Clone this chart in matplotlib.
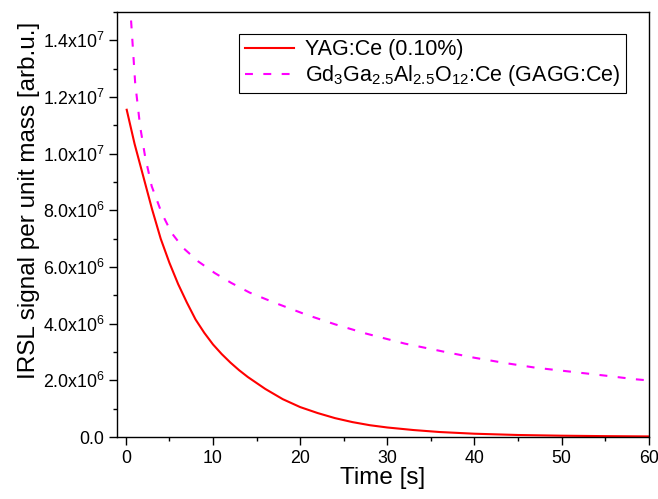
import numpy as np
import matplotlib.pyplot as plt
from matplotlib.ticker import MultipleLocator, FuncFormatter

plt.rcParams['font.family'] = ['Liberation Sans', 'DejaVu Sans']
plt.rcParams['mathtext.fontset'] = 'custom'
plt.rcParams['mathtext.rm'] = 'Liberation Sans'
plt.rcParams['mathtext.it'] = 'Liberation Sans:italic'

# YAG:Ce (0.10%)
yag_t = [0.1, 1, 2, 3, 4, 5, 6, 7, 8, 9, 10, 11, 12, 13, 14, 16, 18, 20, 22, 24, 26, 28,
         30, 33, 36, 40, 45, 50, 55, 60]
yag_y = [11.55e6, 10.35e6, 9.2e6, 8.05e6, 7.0e6, 6.15e6, 5.4e6, 4.75e6, 4.15e6, 3.68e6,
         3.27e6, 2.93e6, 2.63e6, 2.36e6, 2.12e6, 1.7e6, 1.34e6, 1.06e6, 0.85e6, 0.67e6,
         0.53e6, 0.42e6, 0.34e6, 0.25e6, 0.18e6, 0.12e6, 0.075e6, 0.05e6, 0.035e6, 0.025e6]

# GAGG:Ce
gagg_t = [0.6, 1.07, 1.64, 2.21, 2.97, 4.12, 5.26, 6.6, 8.3, 10.2, 12.1, 14.2, 17, 20.7,
          24, 27.6, 32, 36.4, 40, 43.6, 47, 51.3, 55, 58.5, 60]
gagg_y = [14.7e6, 12.5e6, 10.96e6, 9.9e6, 8.85e6, 7.9e6, 7.2e6, 6.67e6, 6.2e6, 5.79e6, 5.44e6,
          5.1e6, 4.75e6, 4.32e6, 3.98e6, 3.65e6, 3.3e6, 3.02e6, 2.8e6, 2.61e6, 2.45e6, 2.3e6,
          2.17e6, 2.04e6, 2.0e6]

fig = plt.figure(figsize=(6.58, 4.99), dpi=100)
ax = fig.add_axes([0.178, 0.124, 0.808, 0.852])

ax.plot(yag_t, yag_y, color='red', lw=1.5, label='YAG:Ce (0.10%)')
ax.plot(gagg_t, gagg_y, color='magenta', lw=1.5, ls=(0, (3.8, 5)),
        label=r'Gd$_3$Ga$_{2.5}$Al$_{2.5}$O$_{12}$:Ce (GAGG:Ce)')

ax.set_xlim(-1, 60)
ax.set_ylim(0, 1.5e7)
ax.xaxis.set_major_locator(MultipleLocator(10))
ax.xaxis.set_minor_locator(MultipleLocator(5))
ax.yaxis.set_major_locator(MultipleLocator(2e6))
ax.yaxis.set_minor_locator(MultipleLocator(1e6))


def yfmt(v, pos):
    if v <= 0:
        return '0.0'
    e = int(np.floor(np.log10(v)))
    return r'%.1fx10$^{%d}$' % (v / 10**e, e)


ax.yaxis.set_major_formatter(FuncFormatter(yfmt))
ax.tick_params(which='both', direction='out', labelsize=12.8, width=1)
ax.tick_params(which='major', length=6, pad=3)
ax.tick_params(which='minor', length=3)
for s in ax.spines.values():
    s.set_linewidth(1)

ax.set_xlabel('Time [s]', fontsize=17.5, labelpad=0)
ax.set_ylabel('IRSL signal per unit mass [arb.u.]', fontsize=17.5)
ax.yaxis.set_label_coords(-0.145, 0.558)

leg = ax.legend(loc='upper right', bbox_to_anchor=(0.957, 0.948), borderaxespad=0,
                fontsize=15.5, fancybox=False, edgecolor='black', framealpha=1,
                handlelength=2.3, handletextpad=0.5, labelspacing=0.12, borderpad=0.25)
leg.get_frame().set_linewidth(0.8)

plt.savefig('out.png', dpi=100)
